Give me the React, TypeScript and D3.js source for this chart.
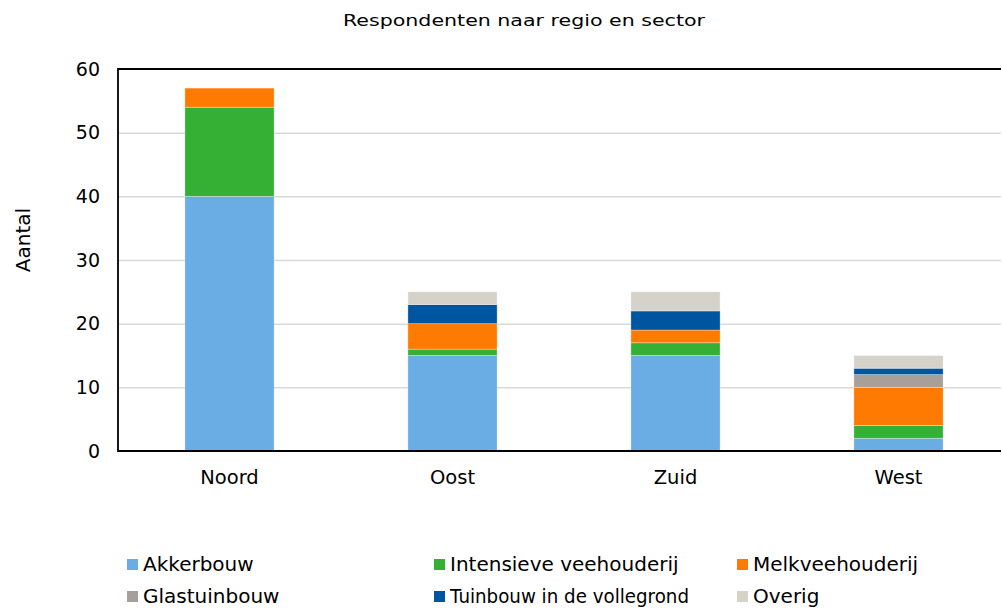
import * as d3 from "d3";
import {useEffect, useRef} from "react";

const WIDTH = 1002;
const HEIGHT = 609;
const MARGIN = {top: 69, right: -8, bottom: 158, left: 118};

const regions = ["Noord", "Oost", "Zuid", "West"];
const sectors = ["Akkerbouw", "Intensieve veehouderij", "Melkveehouderij", "Glastuinbouw", "Tuinbouw in de vollegrond", "Overig"];
const colors = ["#6aace4", "#35b035", "#ff7a00", "#a89f98", "#0055a0", "#d5d2ca"];

// values per sector, in region order
const akkerbouw = [40, 15, 15, 2];
const intensieve = [14, 1, 2, 2];
const melkvee = [3, 4, 2, 6];
const glastuinbouw = [0, 0, 0, 2];
const tuinbouw = [0, 3, 3, 1];
const overig = [0, 2, 3, 2];

const yTicks = [0, 10, 20, 30, 40, 50, 60];

const FONT = "'DejaVu Sans', Verdana, sans-serif";

const App = () => {
    const ref = useRef<SVGSVGElement>(null);

    useEffect(() => {
        const svg = d3.select(ref.current);
        svg.selectAll("*").remove();

        const boundsWidth = WIDTH - MARGIN.left - MARGIN.right;
        const boundsHeight = HEIGHT - MARGIN.top - MARGIN.bottom;

        const series = [akkerbouw, intensieve, melkvee, glastuinbouw, tuinbouw, overig];
        const table = regions.map((r, i) => {
            const row: any = {region: r};
            sectors.forEach((s, j) => row[s] = series[j][i]);
            return row;
        });
        const stacked = d3.stack().keys(sectors)(table);

        const x = d3.scaleBand().domain(regions).range([0, boundsWidth]).paddingInner(0.6).paddingOuter(0.3);
        const y = d3.scaleLinear().domain([0, 60]).range([boundsHeight, 0]);
        const color = d3.scaleOrdinal<string>().domain(sectors).range(colors);

        // title (stretched wide like the original)
        svg.append("text")
            .attr("x", 343)
            .attr("y", 26)
            .attr("textLength", 362)
            .attr("lengthAdjust", "spacingAndGlyphs")
            .style("font-family", FONT)
            .style("font-size", "16px")
            .text("Respondenten naar regio en sector");

        const g = svg.append("g")
            .attr("transform", `translate(${MARGIN.left},${MARGIN.top})`);

        // gridlines
        g.selectAll(".grid")
            .data(yTicks.filter(t => t > 0 && t < 60))
            .join("line")
            .attr("x1", 0)
            .attr("x2", WIDTH - MARGIN.left - 1)
            .attr("y1", d => y(d) + 0.5)
            .attr("y2", d => y(d) + 0.5)
            .attr("stroke", "#d9d9d9")
            .attr("stroke-width", 1.5);

        // bars
        g.selectAll(".layer")
            .data(stacked)
            .join("g")
            .attr("fill", d => color(d.key))
            .selectAll("rect")
            .data(d => d)
            .join("rect")
            .attr("x", d => x((d.data as any).region)!)
            .attr("width", x.bandwidth())
            .attr("y", d => y(d[1]))
            .attr("height", d => Math.max(0, y(d[0]) - y(d[1])))
            .attr("stroke", "white")
            .attr("stroke-opacity", 0.4)
            .attr("stroke-width", 0.8);

        // y axis
        const yAxis = g.append("g")
            .call(d3.axisLeft(y).tickValues(yTicks).tickSize(0).tickPadding(18));
        yAxis.select(".domain").remove();
        yAxis.selectAll(".tick text")
            .style("font-family", FONT)
            .style("font-size", "19px")
            .attr("fill", "#000");

        // x axis
        const xAxis = g.append("g")
            .attr("transform", `translate(0,${boundsHeight})`)
            .call(d3.axisBottom(x).tickSize(0).tickPadding(19));
        xAxis.select(".domain").remove();
        xAxis.selectAll(".tick text")
            .style("font-family", FONT)
            .style("font-size", "19.5px")
            .attr("fill", "#000");

        // frame: top, left, bottom
        const right = WIDTH - MARGIN.left - 1;
        g.append("path")
            .attr("d", `M${right},${y(60)}H0V${y(0)}H${right}`)
            .attr("fill", "none")
            .attr("stroke", "#000")
            .attr("stroke-width", 1.8);

        // y label
        svg.append("text")
            .attr("transform", `translate(30,${240}) rotate(-90)`)
            .attr("text-anchor", "middle")
            .style("font-family", FONT)
            .style("font-size", "20px")
            .text("Aantal");

        // legend
        const legendX = [127, 434, 737];
        const legendY = [571, 603];
        const legend = svg.append("g");
        sectors.forEach((s, i) => {
            const lx = legendX[i % 3];
            const ly = legendY[Math.floor(i / 3)];
            legend.append("rect")
                .attr("x", lx)
                .attr("y", ly - 12)
                .attr("width", 11)
                .attr("height", 11)
                .attr("fill", colors[i]);
            const t = legend.append("text")
                .attr("x", lx + 16)
                .attr("y", ly)
                .style("font-family", FONT)
                .style("font-size", "20px")
                .text(s);
            if (s === "Tuinbouw in de vollegrond") {
                t.attr("textLength", 239).attr("lengthAdjust", "spacingAndGlyphs");
            }
        });
    }, []);

    return (
        <svg ref={ref} width={WIDTH} height={HEIGHT}
             style={{position: "absolute", left: 0, top: 0, background: "white"}}/>
    );
};

export default App;
